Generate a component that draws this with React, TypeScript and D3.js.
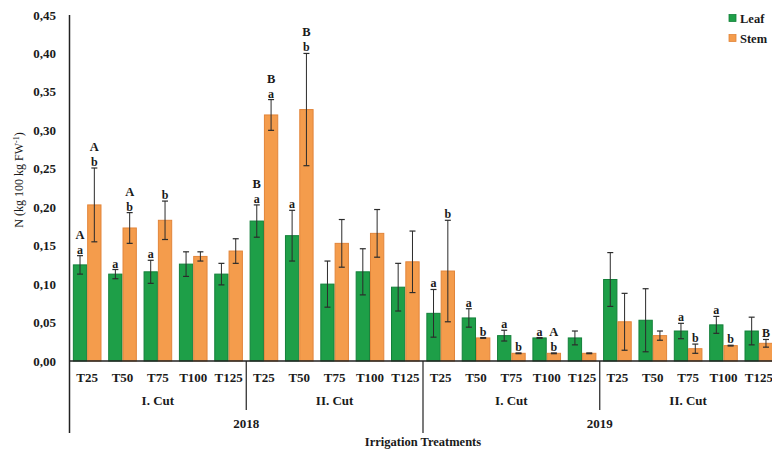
import React from "react";
import * as d3 from "d3";

// Irrigation treatments within each cut
const treatments = ["T25", "T50", "T75", "T100", "T125"];
const cuts = ["I. Cut", "II. Cut"];
const years = ["2018", "2019"];
const series = ["Leaf", "Stem"];
const yTicks = [0, 0.05, 0.1, 0.15, 0.2, 0.25, 0.3, 0.35, 0.4, 0.45];

// N content (kg 100 kg FW-1), ordered 2018 I, 2018 II, 2019 I, 2019 II
const leafValues = [
  0.125, 0.113, 0.116, 0.126, 0.113,
  0.182, 0.163, 0.1, 0.116, 0.096,
  0.062, 0.056, 0.033, 0.03, 0.03,
  0.106, 0.053, 0.039, 0.047, 0.039,
];
const leafErrors = [
  0.012, 0.006, 0.015, 0.016, 0.014,
  0.021, 0.033, 0.03, 0.03, 0.031,
  0.031, 0.012, 0.007, 0.0005, 0.009,
  0.035, 0.041, 0.01, 0.011, 0.018,
];
const stemValues = [
  0.203, 0.173, 0.183, 0.136, 0.143,
  0.32, 0.327, 0.153, 0.166, 0.129,
  0.117, 0.03, 0.01, 0.01, 0.01,
  0.051, 0.033, 0.016, 0.02, 0.023,
];
const stemErrors = [
  0.048, 0.02, 0.025, 0.006, 0.016,
  0.02, 0.073, 0.031, 0.031, 0.04,
  0.066, 0.0005, 0.0005, 0.0005, 0.0005,
  0.037, 0.006, 0.006, 0.0005, 0.005,
];
// Significance letters: first row just above the error bar, second row above it
const leafLetters = [
  "a", "a", "a", "", "",
  "a", "a", "", "", "",
  "a", "a", "a", "a", "",
  "", "", "a", "a", "",
];
const leafUpper = [
  "A", "", "", "", "",
  "B", "", "", "", "",
  "", "", "", "", "",
  "", "", "", "", "",
];
const stemLetters = [
  "b", "b", "b", "", "",
  "a", "b", "", "", "",
  "b", "b", "b", "b", "",
  "", "", "b", "b", "B",
];
const stemUpper = [
  "A", "A", "", "", "",
  "B", "B", "", "", "",
  "", "", "", "A", "",
  "", "", "", "", "",
];

const W = 772;
const H = 451;
const FONT = "'Liberation Serif', 'Times New Roman', serif";
const GREEN = "#1e9f48";
const GREEN_STROKE = "#13803a";
const ORANGE = "#f49c4c";
const ORANGE_STROKE = "#e2853a";

export default function App() {
  const ids: string[] = [];
  years.forEach((yr) =>
    cuts.forEach((c) => treatments.forEach((t) => ids.push(`${yr}|${c}|${t}`)))
  );

  const x = d3
    .scaleBand<string>()
    .domain(ids)
    .range([69.5, 776.5])
    .paddingInner(0.19)
    .paddingOuter(0.095);
  const sub = d3
    .scaleBand<string>()
    .domain(series)
    .range([0, x.bandwidth()]);
  const y = d3.scaleLinear().domain([0, 0.45]).range([361, 15]);

  const x0 = x.range()[0];
  const step = x.step();
  const fmt = (v: number) => d3.format(".2f")(v).replace(".", ",");

  const seriesData = [
    { key: "Leaf", values: leafValues, errors: leafErrors, low: leafLetters, up: leafUpper, fill: GREEN, stroke: GREEN_STROKE },
    { key: "Stem", values: stemValues, errors: stemErrors, low: stemLetters, up: stemUpper, fill: ORANGE, stroke: ORANGE_STROKE },
  ];

  return (
    <svg
      width={W}
      height={H}
      style={{ position: "absolute", left: 0, top: 0, background: "#fff" }}
      fontFamily={FONT}
    >
      {/* bars */}
      {seriesData.map((s) =>
        ids.map((id, i) => {
          const bx = (x(id) as number) + (sub(s.key) as number);
          const bw = sub.bandwidth();
          const v = s.values[i];
          return (
            <rect
              key={`${s.key}-${id}`}
              x={bx + 0.5}
              y={y(v)}
              width={bw - 1}
              height={y(0) - y(v)}
              fill={s.fill}
              stroke={s.stroke}
              strokeWidth={1}
            />
          );
        })
      )}

      {/* error bars and letters */}
      {seriesData.map((s) =>
        ids.map((id, i) => {
          const cx = (x(id) as number) + (sub(s.key) as number) + sub.bandwidth() / 2;
          const v = s.values[i];
          const e = s.errors[i];
          const top = y(v + e);
          const bot = y(v - e);
          return (
            <g key={`e-${s.key}-${id}`}>
              <line x1={cx} x2={cx} y1={top} y2={bot} stroke="#2b2b2b" strokeWidth={1} />
              <line x1={cx - 3} x2={cx + 3} y1={top} y2={top} stroke="#2b2b2b" strokeWidth={1.2} />
              <line x1={cx - 3} x2={cx + 3} y1={bot} y2={bot} stroke="#2b2b2b" strokeWidth={1.2} />
              {s.low[i] && (
                <text x={cx} y={top - 2} textAnchor="middle" fontSize={12} fontWeight="bold" fill="#1a1a1a">
                  {s.low[i]}
                </text>
              )}
              {s.up[i] && (
                <text x={cx} y={top - 17} textAnchor="middle" fontSize={12.5} fontWeight="bold" fill="#1a1a1a">
                  {s.up[i]}
                </text>
              )}
            </g>
          );
        })
      )}

      {/* y axis */}
      <line x1={x0} x2={x0} y1={15} y2={433} stroke="#222" strokeWidth={1.5} />
      {yTicks.map((t) => (
        <text
          key={t}
          x={56}
          y={y(t) + 4.5}
          textAnchor="end"
          fontSize={13}
          fontWeight="bold"
          fill="#1a1a1a"
        >
          {fmt(t)}
        </text>
      ))}
      <text
        transform={`translate(23,180) rotate(-90)`}
        textAnchor="middle"
        fontSize={12}
        fill="#1a1a1a"
      >
        N (kg 100 kg FW
        <tspan dy={-4} fontSize={8}>-1</tspan>
        <tspan dy={4}>)</tspan>
      </text>

      {/* x axis */}
      <line x1={x0} x2={W} y1={y(0)} y2={y(0)} stroke="#222" strokeWidth={1.5} />
      {ids.map((id) => (
        <text
          key={`t-${id}`}
          x={(x(id) as number) + x.bandwidth() / 2}
          y={381.5}
          textAnchor="middle"
          fontSize={13}
          fontWeight="bold"
          fill="#1a1a1a"
        >
          {id.split("|")[2]}
        </text>
      ))}

      {/* cut separators and labels */}
      {[5, 15].map((k) => (
        <line key={`cs-${k}`} x1={x0 + k * step} x2={x0 + k * step} y1={y(0)} y2={410} stroke="#222" strokeWidth={1.2} />
      ))}
      {years.map((yr, yi) =>
        cuts.map((c, ci) => {
          const g = yi * 2 + ci;
          const cx = x0 + (g * 5 + 2.5) * step;
          return (
            <text key={`c-${yr}-${c}`} x={cx} y={405} textAnchor="middle" fontSize={13} fontWeight="bold" fill="#1a1a1a">
              {c}
            </text>
          );
        })
      )}

      {/* year separator and labels */}
      <line x1={x0 + 10 * step} x2={x0 + 10 * step} y1={y(0)} y2={433} stroke="#222" strokeWidth={1.2} />
      {years.map((yr, yi) => (
        <text key={yr} x={x0 + (yi * 10 + 5) * step} y={428} textAnchor="middle" fontSize={13} fontWeight="bold" fill="#1a1a1a">
          {yr}
        </text>
      ))}
      <text x={x0 + 10 * step} y={446} textAnchor="middle" fontSize={12.5} fontWeight="bold" fill="#1a1a1a">
        Irrigation Treatments
      </text>

      {/* legend */}
      {seriesData.map((s, i) => (
        <g key={`lg-${s.key}`} transform={`translate(729,${18 + i * 20})`}>
          <rect x={0} y={-3.5} width={7} height={7} fill={s.fill} stroke={s.stroke} strokeWidth={0.8} />
          <text x={11} y={4.5} fontSize={12.5} fontWeight="bold" fill="#1a1a1a">
            {s.key}
          </text>
        </g>
      ))}
    </svg>
  );
}
